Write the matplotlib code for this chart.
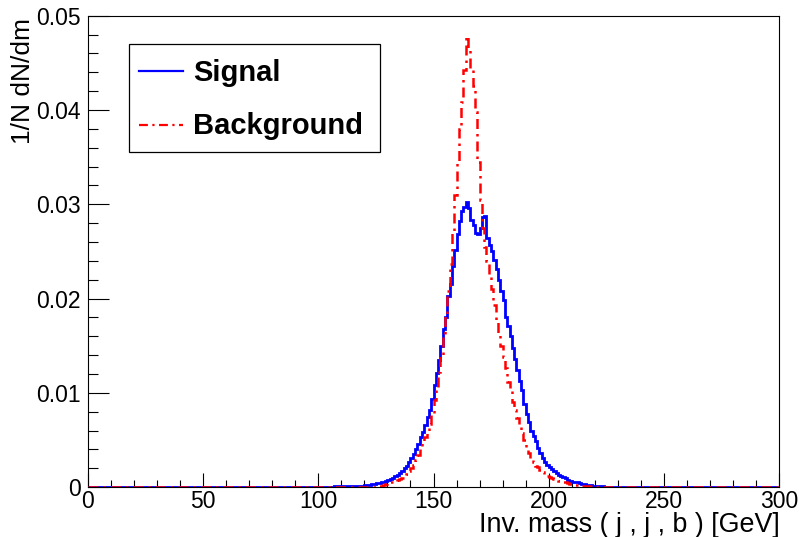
import numpy as np
import matplotlib
matplotlib.use("Agg")
import matplotlib.pyplot as plt
from matplotlib.lines import Line2D
from matplotlib.patches import Rectangle
from matplotlib.ticker import MultipleLocator, FuncFormatter

plt.rcParams['font.family'] = ['Liberation Sans', 'DejaVu Sans']

# ---------------- data ----------------
x_min, x_max, n_bins = 0.0, 300.0, 300          # 1 GeV bins
first_bin = 100                                   # first listed bin (GeV)

signal_vals = [
    # 100-109
    0, 0, 0, 0, 0.00005, 0.00005, 0.00005, 0.0001, 0.0001, 0.0001,
    # 110-119
    0.0001, 0.0001, 0.0001, 0.0001, 0.0001, 0.0001, 0.0001, 0.0001, 0.0001, 0.00015,
    # 120-129
    0.0002, 0.0002, 0.0002, 0.0003, 0.0003, 0.0004, 0.0004, 0.0005, 0.0006, 0.0007,
    # 130-139
    0.0008, 0.0009, 0.0010, 0.0012, 0.0013, 0.0015, 0.0017, 0.0020, 0.0023, 0.0027,
    # 140-149
    0.0031, 0.0035, 0.0041, 0.0046, 0.0053, 0.0059, 0.0066, 0.0074, 0.0082, 0.0094,
    # 150-159
    0.0108, 0.0121, 0.0135, 0.0150, 0.0168, 0.0180, 0.0203, 0.0215, 0.0235, 0.0252,
    # 160-169
    0.0268, 0.0282, 0.0293, 0.0297, 0.0302, 0.0296, 0.0283, 0.0278, 0.0270, 0.0268,
    # 170-179
    0.0275, 0.0287, 0.0288, 0.0264, 0.0257, 0.0250, 0.0241, 0.0231, 0.0220, 0.0208,
    # 180-189
    0.0199, 0.0181, 0.0171, 0.0160, 0.0148, 0.0136, 0.0124, 0.0113, 0.0103, 0.0088,
    # 190-199
    0.0078, 0.0069, 0.0060, 0.0054, 0.0049, 0.0042, 0.0036, 0.0031, 0.0027, 0.0024,
    # 200-209
    0.0021, 0.0019, 0.0017, 0.0015, 0.0013, 0.0012, 0.0011, 0.0010, 0.0008, 0.0007,
    # 210-219
    0.0006, 0.0005, 0.0005, 0.0004, 0.0003, 0.0003, 0.0002, 0.0002, 0.0002, 0.0001,
    # 220-229
    0.0001, 0.0001, 0.0001, 0.0001, 0.00005, 0.00005, 0, 0, 0, 0,
]

background_vals = [
    # 100-109
    0, 0, 0, 0, 0, 0, 0, 0, 0, 0,
    # 110-119
    0, 0, 0, 0, 0, 0, 0, 0, 0, 0,
    # 120-129
    0.00005, 0.00005, 0.00005, 0.00005, 0.00005, 0.0001, 0.0001, 0.00015, 0.0002, 0.0003,
    # 130-139
    0.0004, 0.0005, 0.0006, 0.0007, 0.0008, 0.0009, 0.0010, 0.0012, 0.0014, 0.0017,
    # 140-149
    0.0020, 0.0024, 0.0029, 0.0034, 0.0040, 0.0047, 0.0053, 0.0059, 0.0067, 0.0077,
    # 150-159
    0.0092, 0.0105, 0.0122, 0.0140, 0.0160, 0.0182, 0.0208, 0.0237, 0.0272, 0.0310,
    # 160-169
    0.0345, 0.0380, 0.0408, 0.0442, 0.0478, 0.0466, 0.0442, 0.0425, 0.0398, 0.0345,
    # 170-179
    0.0305, 0.0275, 0.0255, 0.0240, 0.0225, 0.0210, 0.0193, 0.0175, 0.0162, 0.0150,
    # 180-189
    0.0138, 0.0126, 0.0112, 0.0102, 0.0090, 0.0082, 0.0073, 0.0065, 0.0058, 0.0050,
    # 190-199
    0.0042, 0.0036, 0.0031, 0.0027, 0.0023, 0.0021, 0.0018, 0.0016, 0.0014, 0.0012,
    # 200-209
    0.0011, 0.0010, 0.0009, 0.0008, 0.0007, 0.0006, 0.0005, 0.0005, 0.0004, 0.0003,
    # 210-219
    0.0003, 0.0002, 0.0002, 0.0002, 0.0001, 0.0001, 0.0001, 0.0001, 0.0001, 0.0001,
    # 220-229
    0.00005, 0.00005, 0.00005, 0.00005, 0, 0, 0, 0, 0, 0,
]

series_labels = ["Signal", "Background"]
x_title = "Inv. mass ( j , j , b ) [GeV]"
y_title = "1/N dN/dm"
x_ticks = [0, 50, 100, 150, 200, 250, 300]
y_ticks = [0, 0.01, 0.02, 0.03, 0.04, 0.05]

# ---------------- build full histograms ----------------
edges = np.linspace(x_min, x_max, n_bins + 1)
signal = np.zeros(n_bins)
background = np.zeros(n_bins)
signal[first_bin:first_bin + len(signal_vals)] = signal_vals
background[first_bin:first_bin + len(background_vals)] = background_vals

# ---------------- figure ----------------
W, H = 799, 537
fig = plt.figure(figsize=(W / 100, H / 100), dpi=100)

def fx(px):
    return px / W

def fy(py):
    return 1 - py / H

ax_l, ax_r, ax_t, ax_b = 88, 779, 15.7, 487.2
ax = fig.add_axes([fx(ax_l), fy(ax_b), (ax_r - ax_l) / W, (ax_b - ax_t) / H])

blue = (0, 0, 1)
red = (1, 0, 0)
dashdot = (0, (4, 2, 1, 2))

ax.stairs(signal, edges, color=blue, lw=2.0, zorder=3)
ax.stairs(background, edges, color=red, lw=1.8, zorder=4, linestyle=dashdot)

ax.set_xlim(x_min, x_max)
ax.set_ylim(0, 0.05)

ax.xaxis.set_major_locator(MultipleLocator(50))
ax.xaxis.set_minor_locator(MultipleLocator(10))
ax.yaxis.set_major_locator(MultipleLocator(0.01))
ax.yaxis.set_minor_locator(MultipleLocator(0.002))
ax.set_xticks(x_ticks)
ax.set_yticks(y_ticks)
ax.yaxis.set_major_formatter(FuncFormatter(lambda v, p: "0" if abs(v) < 1e-12 else f"{v:.2f}"))
ax.xaxis.set_major_formatter(FuncFormatter(lambda v, p: f"{v:.0f}"))

ax.tick_params(axis='both', which='both', direction='in', top=False, right=False,
               width=0.8, colors='black', labelsize=16.5)
ax.tick_params(axis='y', which='major', length=14.9, pad=5)
ax.tick_params(axis='y', which='minor', length=7.5)
ax.tick_params(axis='x', which='major', length=10.1, pad=2.0)
ax.tick_params(axis='x', which='minor', length=5.0)

for s in ax.spines.values():
    s.set_linewidth(0.8)
    s.set_color('black')

# axis titles (ROOT style: right / top aligned)
fig.text(fx(780), fy(532), x_title, ha='right', va='baseline', fontsize=19.4)
fig.text(fx(23), fy(18), y_title, ha='center', va='top', rotation=90, fontsize=19)

# legend box (ROOT TLegend style)
fig.add_artist(Rectangle((fx(129), fy(152)), (380 - 129) / W, (152 - 44) / H,
                         transform=fig.transFigure, facecolor='white',
                         edgecolor='black', lw=0.9, zorder=5))
fig.add_artist(Line2D([fx(139), fx(183)], [fy(71), fy(71)], transform=fig.transFigure,
                      color=blue, lw=1.6, zorder=6))
fig.add_artist(Line2D([fx(139), fx(183)], [fy(125), fy(125)], transform=fig.transFigure,
                      color=red, lw=1.6, linestyle=dashdot, zorder=6))
fig.text(fx(193), fy(81), series_labels[0], ha='left', va='baseline',
         fontsize=21, fontweight='bold', zorder=7)
fig.text(fx(193), fy(134), series_labels[1], ha='left', va='baseline',
         fontsize=21, fontweight='bold', zorder=7)

fig.savefig("out.png", dpi=100)
